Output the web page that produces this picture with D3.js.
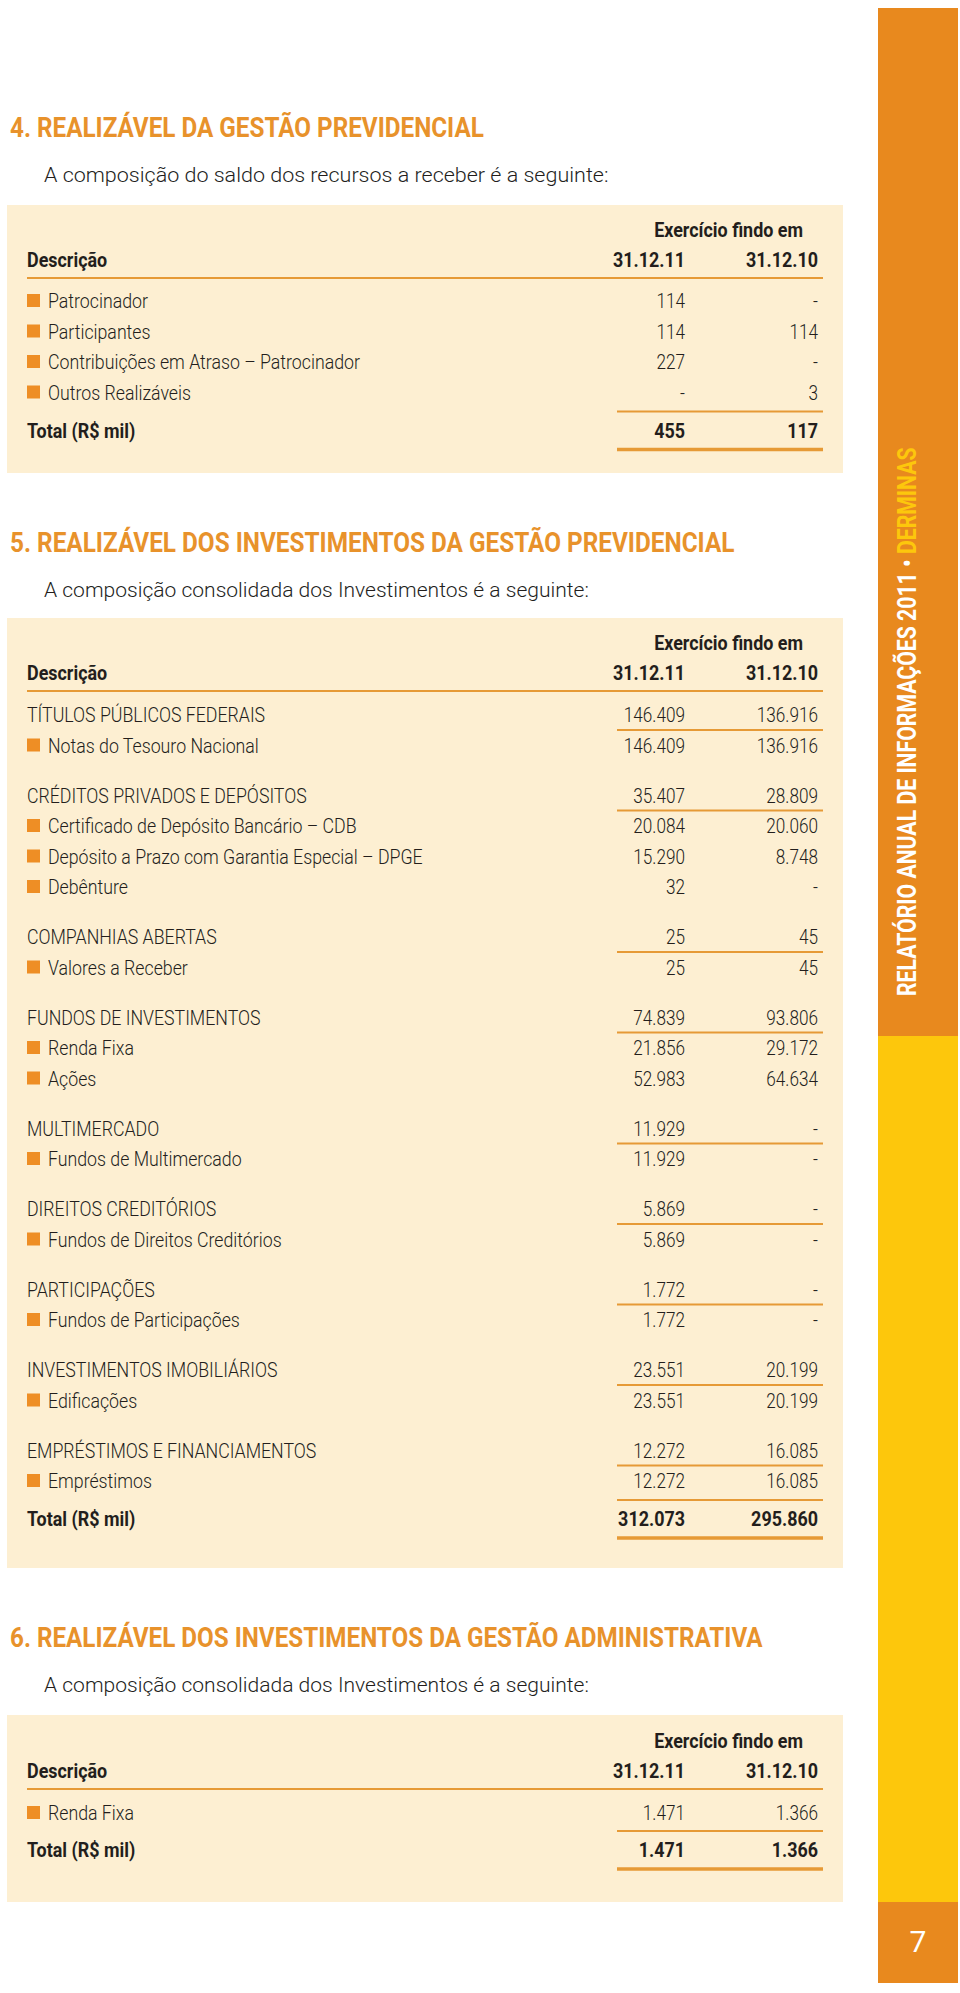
<!DOCTYPE html>
<html><head><meta charset="utf-8">
<script src="https://cdn.jsdelivr.net/npm/d3@7/dist/d3.min.js"></script>
<style>
html,body{margin:0;padding:0;background:#fff;}
svg{display:block;font-family:Roboto,"Noto Sans",sans-serif;}
</style></head><body>
<script>
// ---------- DATA ----------
const columns = ["31.12.11", "31.12.10"];
const headerLabel = "Exercício findo em";
const descLabel = "Descrição";

const sec4Title = "4. REALIZÁVEL DA GESTÃO PREVIDENCIAL";
const sec4Sub = "A composição do saldo dos recursos a receber é a seguinte:";
const t1Items = ["Patrocinador", "Participantes", "Contribuições em Atraso – Patrocinador", "Outros Realizáveis"];
const t1Val11 = [114, 114, 227, null];
const t1Val10 = [null, 114, null, 3];
const t1Total = [455, 117];
const t1TotalLabel = "Total  (R$ mil)";

const sec5Title = "5. REALIZÁVEL DOS INVESTIMENTOS DA GESTÃO PREVIDENCIAL";
const sec5Sub = "A composição consolidada dos Investimentos é a seguinte:";
const t2Groups = ["TÍTULOS PÚBLICOS FEDERAIS", "CRÉDITOS PRIVADOS E DEPÓSITOS", "COMPANHIAS ABERTAS",
  "FUNDOS DE INVESTIMENTOS", "MULTIMERCADO", "DIREITOS CREDITÓRIOS", "PARTICIPAÇÕES",
  "INVESTIMENTOS IMOBILIÁRIOS", "EMPRÉSTIMOS E FINANCIAMENTOS"];
const t2GroupVal11 = [146409, 35407, 25, 74839, 11929, 5869, 1772, 23551, 12272];
const t2GroupVal10 = [136916, 28809, 45, 93806, null, null, null, 20199, 16085];
const t2Items = ["Notas do Tesouro Nacional", "Certificado de Depósito Bancário – CDB",
  "Depósito a Prazo com Garantia Especial – DPGE", "Debênture", "Valores a Receber",
  "Renda Fixa", "Ações", "Fundos de Multimercado", "Fundos de Direitos Creditórios",
  "Fundos de Participações", "Edificações", "Empréstimos"];
const t2ItemGroup = [0, 1, 1, 1, 2, 3, 3, 4, 5, 6, 7, 8];
const t2ItemVal11 = [146409, 20084, 15290, 32, 25, 21856, 52983, 11929, 5869, 1772, 23551, 12272];
const t2ItemVal10 = [136916, 20060, 8748, null, 45, 29172, 64634, null, null, null, 20199, 16085];
const t2Total = [312073, 295860];
const totalLabel = "Total (R$ mil)";

const sec6Title = "6. REALIZÁVEL DOS INVESTIMENTOS DA GESTÃO ADMINISTRATIVA";
const sec6Sub = "A composição consolidada dos Investimentos é a seguinte:";
const t3Items = ["Renda Fixa"];
const t3Val11 = [1471];
const t3Val10 = [1366];
const t3Total = [1471, 1366];

const sideText = "RELATÓRIO ANUAL DE INFORMAÇÕES 2011 • ";
const sideBrand = "DERMINAS";
const pageNumber = "7";

// ---------- STYLE ----------
const C = {orange: "#E8922B", side: "#E8891E", yellow: "#FDC70C", panel: "#FDEFD2",
  line: "#E69A36", bullet: "#EE8E25", text: "#231E1C"};
const loc = d3.formatLocale({decimal: ",", thousands: ".", grouping: [3], currency: ["R$", ""]});
const fmt = v => v == null ? "-" : loc.format(",")(v);

const W = 960, H = 1993;
const svg = d3.select("body").append("svg").attr("width", W).attr("height", H);

// column scale
const x = d3.scalePoint().domain(columns).range([685, 818]);
const LINE_X0 = 617, LINE_X1 = 823, LEFT = 27, ITEM_X = 48;

function txt(g, s, px, py, o = {}) {
  const t = g.append("text").text(s)
    .attr("font-size", o.size || 19.5)
    .attr("font-weight", o.weight || 300)
    .attr("fill", o.fill || C.text)
    .attr("text-anchor", o.anchor || "start");
  let k = o.k || 1;
  if (o.width) k = o.width / t.node().getComputedTextLength();
  t.attr("transform", `translate(${px},${py}) scale(${k},1)`);
  return t;
}
const K_BODY = 0.91, K_NUM = 0.88, K_BOLD = 0.92;

function hline(g, x0, x1, y, w) {
  g.append("line").attr("x1", x0).attr("x2", x1).attr("y1", y).attr("y2", y)
    .attr("stroke", C.line).attr("stroke-width", w);
}
function bullet(g, y) {
  g.append("rect").attr("x", LEFT).attr("y", y - 14).attr("width", 13).attr("height", 13).attr("fill", C.bullet);
}
function values(g, v11, v10, y, bold) {
  [v11, v10].forEach((v, i) => txt(g, fmt(v), x(columns[i]), y,
    {anchor: "end", weight: bold ? 700 : 300, k: bold ? K_BOLD : K_NUM}));
}
function sectionHead(title, titleW, sub, ty, sy) {
  txt(svg, title, 10, ty, {size: 27, weight: 700, fill: C.orange, width: titleW});
  txt(svg, sub, 44, sy, {size: 21, weight: 300, width: 545 * (sub.length / 56)});
}
function panel(y0, y1, exY, colY) {
  svg.append("rect").attr("x", 7).attr("y", y0).attr("width", 836).attr("height", y1 - y0).attr("fill", C.panel);
  txt(svg, headerLabel, 803, exY, {anchor: "end", weight: 700, k: K_BOLD});
  txt(svg, descLabel, LEFT, colY, {weight: 700, k: K_BOLD});
  columns.forEach(c => txt(svg, c, x(c), colY, {anchor: "end", weight: 700, k: K_BOLD}));
  hline(svg, LEFT, LINE_X1, colY + 11, 2);
}
function totalBlock(label, tot, lineY) {
  hline(svg, LINE_X0, LINE_X1, lineY, 2);
  const ty = lineY + 26;
  txt(svg, label, LEFT, ty, {weight: 700, k: K_BOLD});
  values(svg, tot[0], tot[1], ty, true);
  hline(svg, LINE_X0, LINE_X1, ty + 12, 3.5);
}

// ---------- SIDEBAR ----------
svg.append("rect").attr("x", 878).attr("y", 8).attr("width", 80).attr("height", 1028).attr("fill", C.side);
svg.append("rect").attr("x", 878).attr("y", 1036).attr("width", 80).attr("height", 866).attr("fill", C.yellow);
svg.append("rect").attr("x", 878).attr("y", 1902).attr("width", 80).attr("height", 81).attr("fill", C.side);
{
  const t = svg.append("text").attr("font-size", 26).attr("font-weight", 700);
  t.append("tspan").attr("fill", "#fff").text(sideText);
  t.append("tspan").attr("fill", C.yellow).text(sideBrand);
  const k = 549 / t.node().getComputedTextLength();
  t.attr("transform", `translate(916,996) rotate(-90) scale(${k},1)`);
  svg.append("text").attr("x", 918).attr("y", 1952).attr("text-anchor", "middle")
    .attr("font-size", 30).attr("fill", "#fff").attr("font-weight", 400).text(pageNumber);
}

// ---------- SECTION 4 ----------
sectionHead(sec4Title, 474, sec4Sub, 137, 182);
panel(205, 473, 237, 267);
{
  const y = d3.scaleLinear().domain([0, 1]).range([308, 338.5]);
  t1Items.forEach((s, i) => {
    bullet(svg, y(i));
    txt(svg, s, ITEM_X, y(i), {k: K_BODY});
    values(svg, t1Val11[i], t1Val10[i], y(i), false);
  });
  totalBlock(t1TotalLabel, t1Total, y(t1Items.length - 1) + 12);
}

// ---------- SECTION 5 ----------
sectionHead(sec5Title, 725, sec5Sub, 552, 597);
panel(618, 1568, 650, 680);
{
  const step = 30.5, gap = 50;
  let yy = 722 - gap;
  let lastY = 0;
  t2Groups.forEach((gname, gi) => {
    yy += gap;
    txt(svg, gname, LEFT, yy, {k: K_BODY});
    values(svg, t2GroupVal11[gi], t2GroupVal10[gi], yy, false);
    hline(svg, LINE_X0, LINE_X1, yy + 8, 2);
    t2Items.forEach((s, i) => {
      if (t2ItemGroup[i] !== gi) return;
      yy += step;
      bullet(svg, yy);
      txt(svg, s, ITEM_X, yy, {k: K_BODY});
      values(svg, t2ItemVal11[i], t2ItemVal10[i], yy, false);
    });
    lastY = yy;
  });
  totalBlock(totalLabel, t2Total, lastY + 12);
}

// ---------- SECTION 6 ----------
sectionHead(sec6Title, 753, sec6Sub, 1647, 1692);
panel(1715, 1902, 1748, 1778);
{
  const y = d3.scaleLinear().domain([0, 1]).range([1820, 1850.5]);
  t3Items.forEach((s, i) => {
    bullet(svg, y(i));
    txt(svg, s, ITEM_X, y(i), {k: K_BODY});
    values(svg, t3Val11[i], t3Val10[i], y(i), false);
  });
  totalBlock(totalLabel, t3Total, y(t3Items.length - 1) + 11);
}
</script>
</body></html>
